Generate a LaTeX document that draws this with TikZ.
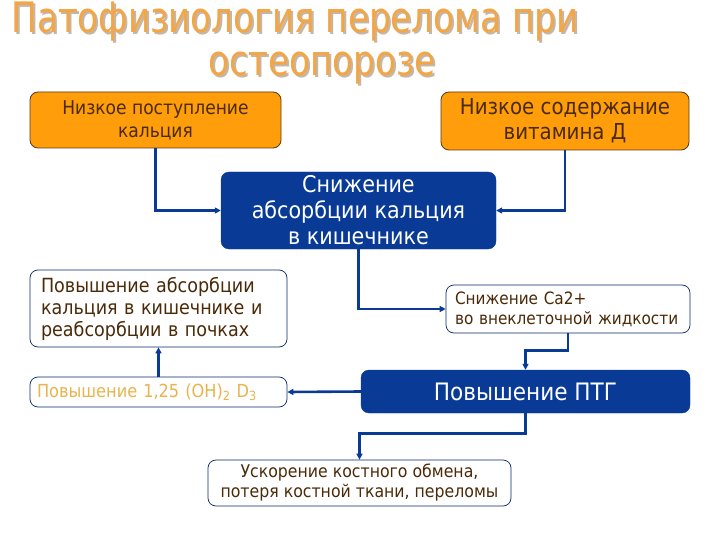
\documentclass[tikz,border=0pt]{standalone}
\usepackage{fontspec}
\setmainfont{DejaVu Sans Condensed}
\usetikzlibrary{arrows.meta}
\definecolor{osOrange}{HTML}{FF9E0A}
\definecolor{osEdge}{HTML}{5A3A10}
\definecolor{osBlue}{HTML}{083A96}
\definecolor{osBrown}{HTML}{4A2A08}
\definecolor{osGold}{HTML}{E8B44C}
\definecolor{osTitle}{HTML}{F2A646}
\definecolor{osShadow}{HTML}{C4B6A8}
\tikzset{
  os orange/.style={draw=osEdge, fill=osOrange, rounded corners=8pt, line width=0.8pt, text=osBrown, align=center, inner sep=0pt},
  os blue/.style={draw=osBlue, fill=osBlue, rounded corners=8pt, text=white, align=center, inner sep=0pt},
  os white/.style={draw=osBlue!70!black, fill=white, rounded corners=8pt, line width=0.7pt, text=osBrown, inner sep=0pt},
  os link/.style={draw=osBlue, line width=2.6pt, -{Triangle[length=6pt,width=6pt]}},
  os title/.style={font=\fontsize{40}{40}\selectfont, text=osTitle, xscale=0.95, yscale=1.05, transform shape},
}

\begin{document}
\begin{tikzpicture}[x=1pt, y=-1pt]
  \useasboundingbox (0,0) rectangle (720,540);

  % Title with shadow
  \node[os title, text=osShadow, anchor=west] at (10,24) {Патофизиология перелома при};
  \node[os title, anchor=west] at (8,22) {Патофизиология перелома при};
  \node[os title, text=osShadow] at (324,70) {остеопорозе};
  \node[os title] (title) at (322,68) {остеопорозе};

  % Causes
  \node[os orange, minimum width=251pt, minimum height=56pt, font=\fontsize{19}{23}\selectfont] (lowCa) at (155.5,120) {Низкое поступление\\кальция};
  \node[os orange, minimum width=248pt, minimum height=58pt, font=\fontsize{22}{25}\selectfont] (lowVitD) at (565,121) {Низкое содержание\\витамина Д};

  % Absorption
  \node[os blue, minimum width=275pt, minimum height=77pt, font=\fontsize{23}{26}\selectfont] (absorb) at (358.5,210.5) {Снижение\\абсорбции кальция\\в кишечнике};

  % Compensation
  \node[os white, minimum width=257pt, minimum height=77pt, font=\fontsize{19.5}{22}\selectfont, align=left, text width=235pt] (raise) at (158.5,308.5) {Повышение абсорбции\\кальция в кишечнике и\\реабсорбции в почках};
  \node[os white, minimum width=244pt, minimum height=48pt, font=\fontsize{17}{20}\selectfont, align=left, text width=226pt] (lowECF) at (568,309) {Снижение Ca2+\\во внеклеточной жидкости};
  \node[os white, minimum width=257pt, minimum height=30pt, font=\fontsize{18}{20}\selectfont, text=osGold, align=left, text width=243pt] (vitD3) at (158.5,392) {Повышение 1,25 (OH)\textsubscript{2} D\textsubscript{3}};
  \node[os blue, minimum width=329pt, minimum height=43pt, font=\fontsize{24}{26}\selectfont] (ptg) at (525.5,391.5) {Повышение ПТГ};

  % Outcome
  \node[os white, minimum width=303pt, minimum height=46pt, font=\fontsize{17.5}{20}\selectfont, align=center] (bone) at (359.5,483) {Ускорение костного обмена,\\потеря костной ткани, переломы};

  % Arrows
  \draw[os link] (lowCa.south) |- (absorb.west);
  \draw[os link] (lowVitD.south) |- (absorb.east);
  \draw[os link] (absorb.south) |- (lowECF.west);
  \draw[os link] (lowECF.south) -- ++(0,17) -| (ptg.north);
  \draw[os link] (ptg.west) -- (vitD3.east);
  \draw[os link] (vitD3.north) -- (raise.south);
  \draw[os link] (ptg.south) -- ++(0,20) -| (bone.north);
\end{tikzpicture}
\end{document}
